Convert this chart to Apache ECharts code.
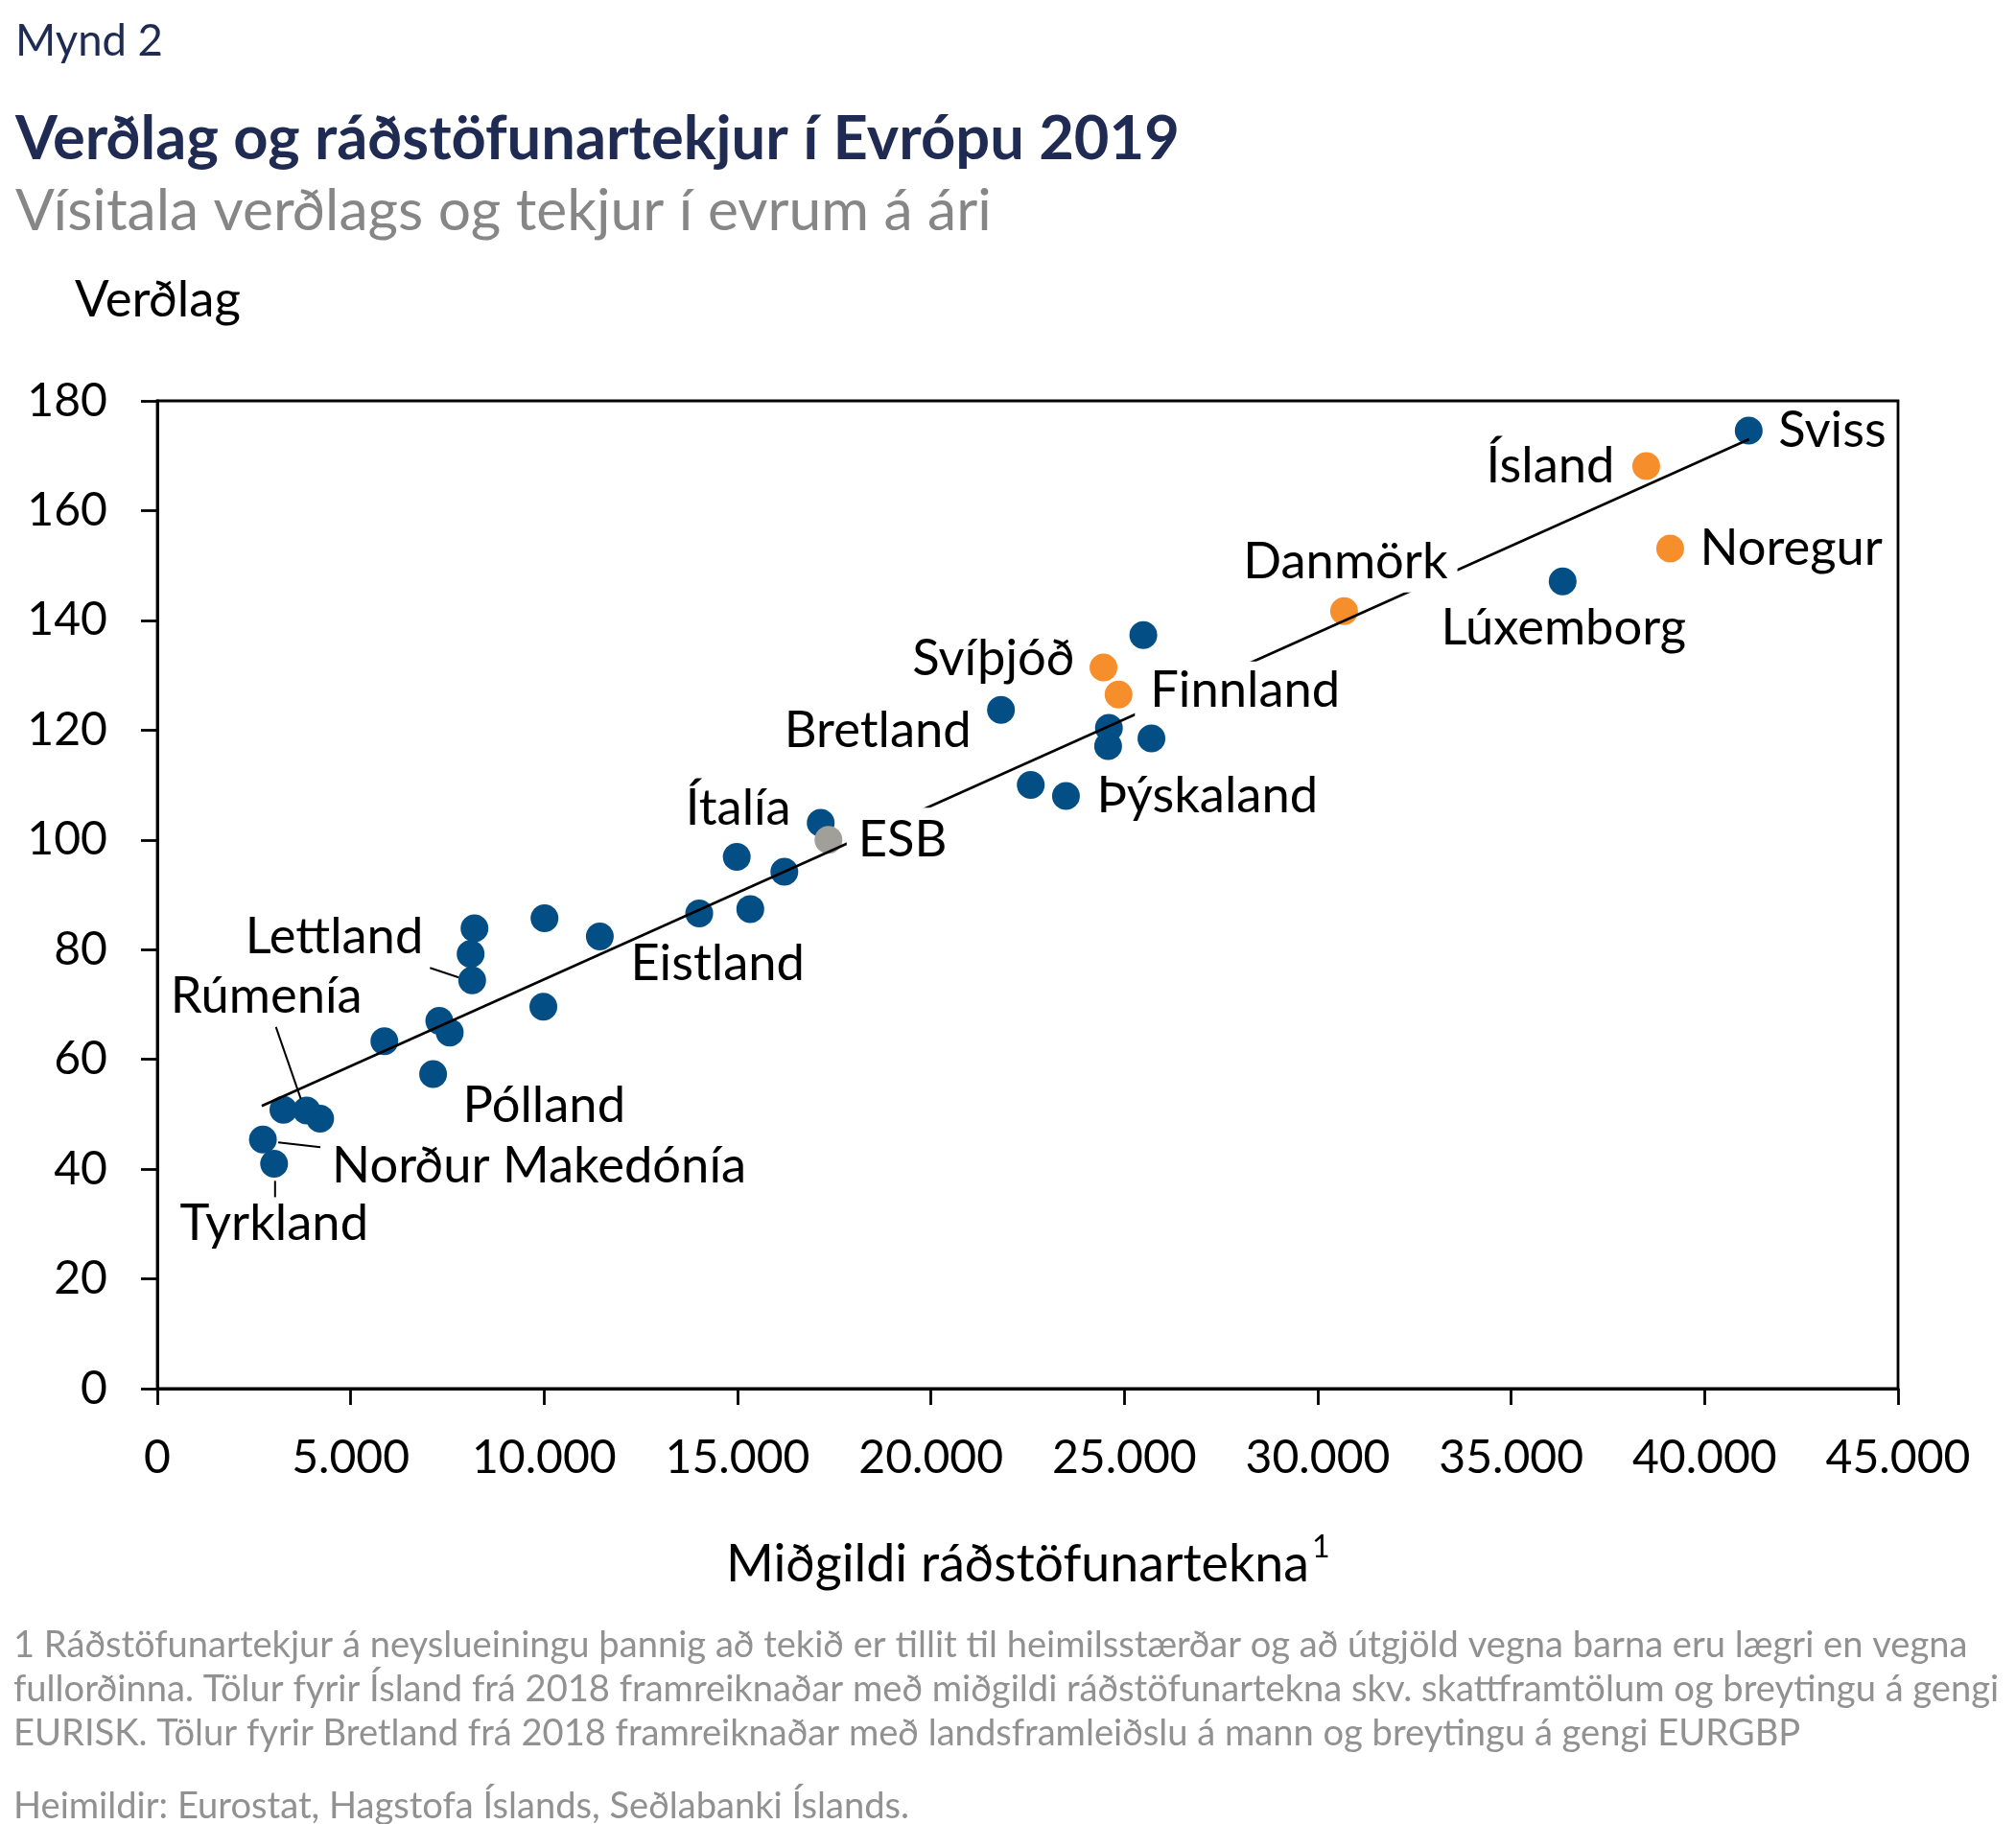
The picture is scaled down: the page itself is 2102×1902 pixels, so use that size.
<!DOCTYPE html>
<html><head><meta charset="utf-8"><title>Mynd 2</title>
<script src="https://cdn.jsdelivr.net/npm/echarts@6/dist/echarts.min.js"></script>
<style>html,body{margin:0;padding:0;background:#fff;}#chart{width:2102px;height:1902px;}</style>
</head><body><div id="chart"></div>
<script>
// ---------------- data ----------------
const countries = ['Sviss','Ísland','Noregur','Lúxemborg','Danmörk','','Svíþjóð','Finnland','Bretland','','','','','Þýskaland','Ítalía','ESB','','','','','Eistland','','','','Lettland','','','','','Pólland','','Rúmenía','','Norður Makedónía','Tyrkland'];
const income = [41140,38490,39110,36330,30680,25490,24460,24850,21810,24600,24580,25700,22580,23490,17150,17350,14980,16210,14010,15330,11440,10010,8200,8100,8140,7290,7560,5870,9980,7130,3260,3860,4210,2730,3020];
const priceLevel = [174.6,168.1,153.1,147.1,141.7,137.3,131.4,126.5,123.7,120.4,117.1,118.5,110.0,108.0,103.1,100.0,96.9,94.2,86.6,87.4,82.4,85.7,83.9,79.2,74.4,67.0,64.9,63.3,69.6,57.3,50.8,50.7,49.2,45.4,41.0];
const group = ['b','o','o','b','o','b','o','o','b','b','b','b','b','b','b','e','b','b','b','b','b','b','b','b','b','b','b','b','b','b','b','b','b','b','b'];
const trendX = [2700, 41150];
const trendY = [51.5, 173.0];
const xTicks = [0,5000,10000,15000,20000,25000,30000,35000,40000,45000];
const yTicks = [0,20,40,60,80,100,120,140,160,180];

const texts = {
  fig: 'Mynd 2',
  title: 'Verðlag og ráðstöfunartekjur í Evrópu 2019',
  subtitle: 'Vísitala verðlags og tekjur í evrum á ári',
  yName: 'Verðlag',
  xName: 'Miðgildi ráðstöfunartekna',
  foot: [
    '1 Ráðstöfunartekjur á neyslueiningu þannig að tekið er tillit til heimilsstærðar og að útgjöld vegna barna eru lægri en vegna',
    'fullorðinna. Tölur fyrir Ísland frá 2018 framreiknaðar með miðgildi ráðstöfunartekna skv. skattframtölum og breytingu á gengi',
    'EURISK. Tölur fyrir Bretland frá 2018 framreiknaðar með landsframleiðslu á mann og breytingu á gengi EURGBP'
  ],
  source: 'Heimildir: Eurostat, Hagstofa Íslands, Seðlabanki Íslands.'
};

// ---------------- layout / style ----------------
const FONT = 'Lato';
const COL = { b: '#034f85', o: '#f68e2c', e: '#a09f9a' };
const ctx = document.createElement('canvas').getContext('2d');
function fit(text, weight, target) {
  ctx.font = weight + ' 100px ' + FONT;
  return 100 * target / ctx.measureText(text).width;
}
const labelSize = fit('Norður Makedónía', 'normal', 432);
const tickSize = fit('5.000', 'normal', 123);
const footSize = fit(texts.foot[1], 'normal', 2071);

// label placement: [align, dx, dy, background padding]
const labelLayout = {
  'Sviss': ['left', 31, 0],
  'Ísland': ['right', -33, 0],
  'Noregur': ['left', 31, 0],
  'Lúxemborg': ['center', 1, 49],
  'Danmörk': ['center', 2, -51.5, [5, 10, 6, 9]],
  'Svíþjóð': ['right', -30, -9],
  'Finnland': ['left', 17, -4, [1, 8, 7, 16]],
  'Bretland': ['right', -31, 22],
  'Þýskaland': ['left', 32, 0],
  'Ítalía': ['right', -31, -15],
  'ESB': ['left', 19, 0, [7, 8, 7, 12]],
  'Eistland': ['left', 32, 29],
  'Lettland': ['right', -51, -45],
  'Rúmenía': ['center', -42, -119],
  'Pólland': ['left', 31, 33],
  'Norður Makedónía': ['left', 72, 28],
  'Tyrkland': ['center', 0, 63]
};
// connector lines relative to point centre (px)
const connectors = {
  'Lettland': [-44, -13, -14, -3],
  'Rúmenía': [-32, -87, -6, -12],
  'Norður Makedónía': [16, 3, 60, 8],
  'Tyrkland': [1, 18, 1, 35]
};

function pts(g) {
  const out = [];
  income.forEach((x, i) => { if (group[i] === g) out.push({ value: [x, priceLevel[i]], name: countries[i] }); });
  return out;
}
const SYM = 29;
const labelData = [];
countries.forEach((n, i) => {
  if (!n) return;
  const L = labelLayout[n];
  const lab = {
    show: true, formatter: n,
    position: [SYM / 2 + L[1], SYM / 2 + L[2]],
    align: L[0], verticalAlign: 'middle'
  };
  if (L[3]) { lab.backgroundColor = '#ffffff'; lab.padding = L[3]; }
  labelData.push({ value: [income[i], priceLevel[i]], name: n, label: lab });
});

const fmt = v => String(v).replace(/\B(?=(\d{3})+(?!\d))/g, '.');

const chart = echarts.init(document.getElementById('chart'), null, { renderer: 'canvas' });
const GL = 164, GR = 1979, GT = 418, GB = 1448;
const AX = 2.8;
const option = {
  animation: false,
  backgroundColor: '#ffffff',
  textStyle: { fontFamily: FONT },
  grid: { left: GL, right: 2102 - GR, top: GT, bottom: 1902 - GB, show: true, borderColor: '#000', borderWidth: AX, backgroundColor: 'transparent' },
  xAxis: {
    type: 'value', min: xTicks[0], max: xTicks[xTicks.length - 1], interval: xTicks[1] - xTicks[0],
    axisLine: { show: true, lineStyle: { color: '#000', width: AX } },
    axisTick: { show: true, length: 17, lineStyle: { color: '#000', width: AX } },
    axisLabel: { color: '#000', fontSize: tickSize, fontFamily: FONT, margin: 48, formatter: fmt },
    splitLine: { show: false }
  },
  yAxis: {
    type: 'value', min: yTicks[0], max: yTicks[yTicks.length - 1], interval: yTicks[1] - yTicks[0],
    axisLine: { show: true, lineStyle: { color: '#000', width: AX } },
    axisTick: { show: true, length: 17, lineStyle: { color: '#000', width: AX } },
    axisLabel: { color: '#000', fontSize: tickSize, fontFamily: FONT, margin: 52 },
    splitLine: { show: false }
  },
  series: [
    { type: 'scatter', name: 'Lönd', data: pts('b'), symbolSize: SYM, itemStyle: { color: COL.b, opacity: 1 }, z: 2, silent: true },
    { type: 'scatter', name: 'Norðurlönd', data: pts('o'), symbolSize: SYM, itemStyle: { color: COL.o, opacity: 1 }, z: 3, silent: true },
    { type: 'scatter', name: 'ESB', data: pts('e'), symbolSize: SYM, itemStyle: { color: COL.e, opacity: 1 }, z: 3, silent: true },
    { type: 'line', name: 'Leitni', data: [[trendX[0], trendY[0]], [trendX[1], trendY[1]]], symbol: 'none', lineStyle: { color: '#000', width: 2.6 }, z: 5, silent: true },
    { type: 'scatter', name: 'labels', data: labelData, symbolSize: SYM, itemStyle: { color: 'rgba(0,0,0,0)', opacity: 1 }, z: 8, silent: true,
      label: { color: '#000', fontSize: labelSize, fontFamily: FONT, opacity: 1 } }
  ]
};
chart.setOption(option);

// ---- texts and connectors ----
const g = [];
function txt(x, y, s, size, color, weight, align) {
  g.push({ type: 'text', x: x, y: y, z: 20, style: { text: s, fontSize: size, fontFamily: FONT, fontWeight: weight || 'normal', fill: color, align: align || 'left', verticalAlign: 'middle' } });
}
txt(16, 43, texts.fig, fit(texts.fig, 'normal', 154), '#1f2b52');
txt(16, 146, texts.title, fit(texts.title, 'bold', 1214), '#1f2b52', 'bold');
txt(16, 220, texts.subtitle, fit(texts.subtitle, 'normal', 1018), '#868686');
txt(78, 313, texts.yName, fit(texts.yName, 'normal', 173), '#000');
const xNameSize = fit(texts.xName, 'normal', 608);
txt(757, 1632, texts.xName, xNameSize, '#000');
ctx.font = 'normal ' + xNameSize + 'px ' + FONT;
const xw = ctx.measureText(texts.xName).width;
txt(757 + xw + 3, 1614, '1', xNameSize * 0.6, '#000');
const footY = [1716, 1762, 1808];
texts.foot.forEach((s, i) => txt(14, footY[i], s, footSize, '#919191'));
txt(14, 1884, texts.source, footSize, '#919191');

countries.forEach((n, i) => {
  const c = connectors[n];
  if (!c) return;
  const p = chart.convertToPixel({ gridIndex: 0 }, [income[i], priceLevel[i]]);
  g.push({ type: 'line', z: 20, shape: { x1: p[0] + c[0], y1: p[1] + c[1], x2: p[0] + c[2], y2: p[1] + c[3] }, style: { stroke: '#000', lineWidth: 2 } });
});
chart.setOption({ graphic: g });
</script>
</body></html>
